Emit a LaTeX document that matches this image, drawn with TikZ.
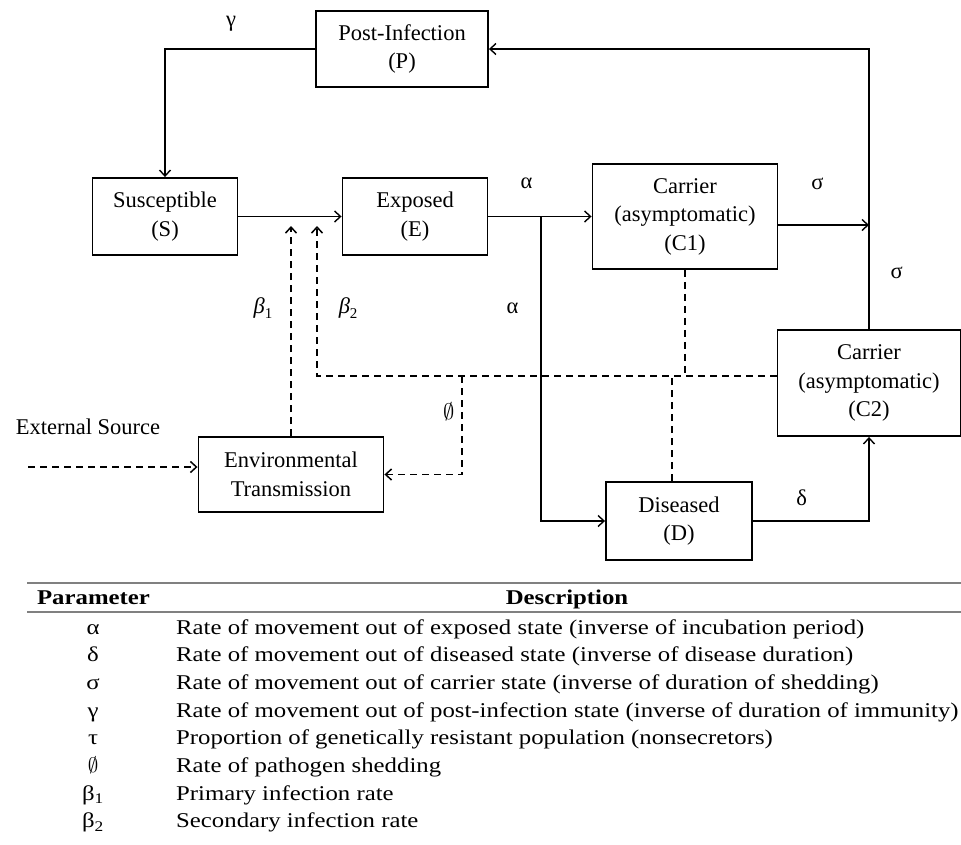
\RequirePackage{fix-cm}
\documentclass[tikz,border=0pt]{standalone}
\usepackage{fontspec}
\setmainfont{Liberation Serif}
\newfontfamily\tabfont{Liberation Serif}[FakeStretch=1.18]
\usetikzlibrary{positioning, arrows.meta}

\newcommand{\betalbl}[1]{{\itshape β}\raisebox{-5pt}{\fontsize{15}{15}\selectfont #1}}

\begin{document}
\begin{tikzpicture}[x=1pt,y=1pt,on grid,auto,
	>={Straight Barb[length=6pt,width=11pt]},
	every node/.style={font=\fontsize{22.5}{28.5}\selectfont},
	box/.style={draw,line width=1.9pt,align=center,inner sep=0pt,minimum width=145pt,minimum height=77pt},
	flow/.style={line width=1.4pt},
	shed/.style={line width=1.5pt,dash pattern=on 7pt off 5pt},
	lbl/.style={inner sep=0pt},
	row/.style={font=\tabfont\fontsize{21}{25}\selectfont,inner sep=0pt}]
	
	\useasboundingbox (0,0) rectangle (961,-844);
	
	\node[box] (S) at (165,-216.5) {Susceptible\\(S)};
	\node[box] (E) [right=250pt of S] {Exposed\\(E)};
	\node[box,minimum width=172pt,minimum height=76pt] (P) at (402,-49) {Post-Infection\\(P)};
	\node[box,minimum width=185pt,minimum height=105pt] (C_1) [right=270pt of E] {Carrier\\(asymptomatic)\\(C1)};
	\node[box,minimum width=183pt,minimum height=106pt] (C_2) at (869,-383) {Carrier\\(asymptomatic)\\(C2)};
	\node[box,minimum width=146pt,minimum height=78pt] (D) at (679,-521) {Diseased\\(D)};
	\node[box,minimum width=185pt,minimum height=75pt] (env) at (291,-474.5) {Environmental\\Transmission};
	\node (ext) at (88,-427) {External Source};
	
	\coordinate (fork) at (541,-216.5);
	\coordinate (b_1) at (291,-226);
	\coordinate (b_2) at (317,-226);
	\coordinate (phi) at (462,-376);
	\coordinate (src) at (28,-467);
	
	% solid flows
	\draw[flow,->] (P) -| node[lbl,pos=0.28,above=17pt] {γ} (S);
	\draw[flow,->] (S) -- (E);
	\draw[flow,->] (E) -- node[lbl,pos=0.37,above=27pt] {α} (C_1);
	\draw[flow,->] (fork) |- node[lbl,pos=0.15,left=22pt] {α} (D);
	\draw[flow,->] ([yshift=-8.5pt]C_1.east) -- node[lbl,pos=0.43,above=35pt] {σ} ([yshift=-8.5pt]C_1.east -| C_2.north);
	\draw[flow,->] (C_2) |- node[lbl,pos=0.1,right=21pt] {σ} (P);
	\draw[flow,->] (D) -| node[lbl,pos=0.21,above=15pt] {δ} (C_2);
	
	% shedding / transmission
	\draw[shed,->] (env) -- node[lbl,pos=0.61,left=18pt] {\betalbl{1}} (b_1);
	\draw[shed,->] ([yshift=7pt]C_2.west) -| node[lbl,pos=0.727,right=21pt] {\betalbl{2}} (b_2);
	\draw[shed,->] (phi) |- node[lbl,pos=0.18,left=7pt] {$\emptyset$} (env);
	\draw[shed] (C_1) -- (C_1.south |- phi);
	\draw[shed] ([xshift=-7pt]D.north) -- ([xshift=-7pt]D.north |- phi);
	\draw[shed,->] (src) -- (src -| env.west);
	
	% parameter table
	\draw[line width=1.2pt,gray] (27,-583) -- (961,-583);
	\draw[line width=1.2pt,gray] (27,-612) -- (961,-612);
	\node[row,anchor=base,font=\tabfont\bfseries\fontsize{21}{25}\selectfont] (par) at (93.5,-604) {Parameter};
	\node[row,anchor=base,font=\tabfont\bfseries\fontsize{21}{25}\selectfont] (desc) at (567,-604) {Description};
	\foreach \sym/\txt [count=\i] in {
		{α}/{Rate of movement out of exposed state (inverse of incubation period)},
		{δ}/{Rate of movement out of diseased state (inverse of disease duration)},
		{σ}/{Rate of movement out of carrier state (inverse of duration of shedding)},
		{γ}/{Rate of movement out of post-infection state (inverse of duration of immunity)},
		{τ}/{Proportion of genetically resistant population (nonsecretors)},
		{$\emptyset$}/{Rate of pathogen shedding},
		{β\textsubscript{1}}/{Primary infection rate},
		{β\textsubscript{2}}/{Secondary infection rate}}
	{
		\node[row,anchor=base] (sym_\i) at (93,{-634-27.7*(\i-1)}) {\sym};
		\node[row,anchor=base west] (txt_\i) at (176,{-634-27.7*(\i-1)}) {\txt};
	}
\end{tikzpicture}
\end{document}
